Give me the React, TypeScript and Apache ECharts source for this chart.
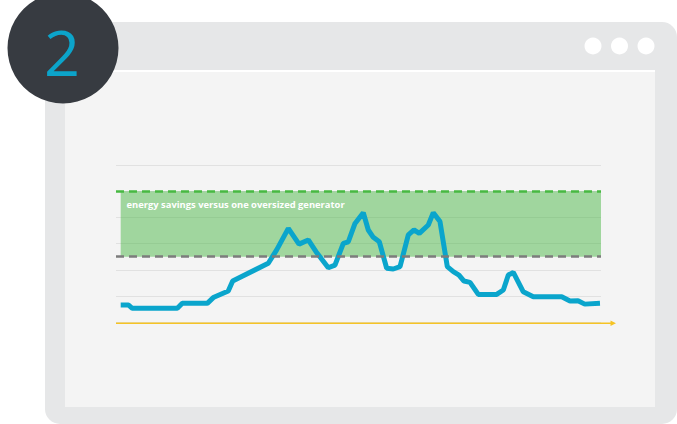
import React, { useEffect, useRef } from "react";
import * as echarts from "echarts";

// Load curve: x position (share of the period, 0-100) and load level
const loadX = [0.97, 2.54, 3.36, 12.64, 13.67, 18.82, 20.06, 23.15, 24.06, 31.4, 33.13, 35.53, 37.73, 39.65, 41.24, 43.77, 45.15, 46.87, 47.9, 49.28, 50.99, 52.02, 53.05, 54.29, 55.81, 57.18, 58.56, 60.27, 61.44, 62.54, 64.39, 65.42, 66.8, 68.31, 69.55, 70.72, 71.75, 72.99, 74.7, 78.49, 79.86, 80.89, 81.92, 83.98, 86.04, 91.9, 93.61, 95.26, 96.65, 99.79];
const loadY = [0.66, 0.66, 0.53, 0.53, 0.72, 0.72, 0.94, 1.19, 1.57, 2.25, 2.76, 3.58, 2.98, 3.14, 2.69, 2.08, 2.18, 3.01, 3.07, 3.77, 4.18, 3.52, 3.24, 3.07, 2.06, 2.03, 2.12, 3.33, 3.52, 3.39, 3.71, 4.18, 3.84, 2.12, 1.93, 1.8, 1.57, 1.52, 1.06, 1.06, 1.23, 1.8, 1.9, 1.16, 0.97, 0.97, 0.81, 0.82, 0.69, 0.72];

const oversizedLevel = 5;
const rightSizedLevel = 2.5;
const bandStartX = 0.97;
const bandEndX = 100;
const bandLabel = "energy savings versus one oversized generator";
const stepLabel = "2";

export default function App() {
  const ref = useRef<HTMLDivElement>(null);
  useEffect(() => {
    if (!ref.current) return;
    const chart = echarts.init(ref.current, undefined, { renderer: "svg" });
    const data = loadX.map((x, i) => [x, loadY[i]]);
    chart.setOption({
      animation: false,
      backgroundColor: "#ffffff",
      grid: { left: 116, right: 76, top: 165, bottom: 101.8 },
      xAxis: {
        type: "value",
        min: 0,
        max: 100,
        axisLine: { show: false },
        axisTick: { show: false },
        axisLabel: { show: false },
        splitLine: { show: false },
      },
      yAxis: {
        type: "value",
        min: 0,
        max: 6,
        interval: 1,
        axisLine: { show: false },
        axisTick: { show: false },
        axisLabel: { show: false },
        splitLine: { show: true, lineStyle: { color: "#e1e1e1", width: 1 } },
      },
      graphic: [
        {
          type: "rect",
          z: -10,
          shape: { x: 45, y: 22, width: 632, height: 402, r: 15 },
          style: { fill: "#e6e7e8" },
        },
        {
          type: "rect",
          z: -9,
          shape: { x: 65, y: 70, width: 590, height: 337 },
          style: { fill: "#f4f4f4" },
        },
        {
          type: "rect",
          z: -9,
          shape: { x: 65, y: 70, width: 590, height: 2 },
          style: { fill: "#ffffff" },
        },
        { type: "circle", z: -8, shape: { cx: 593, cy: 46, r: 8.5 }, style: { fill: "#ffffff" } },
        { type: "circle", z: -8, shape: { cx: 619.5, cy: 46, r: 8.5 }, style: { fill: "#ffffff" } },
        { type: "circle", z: -8, shape: { cx: 646, cy: 46, r: 8.5 }, style: { fill: "#ffffff" } },
        {
          type: "circle",
          z: 5,
          shape: { cx: 63, cy: 48, r: 55.5 },
          style: { fill: "#373b41" },
        },
        {
          type: "text",
          z: 6,
          x: 62,
          y: 51,
          style: {
            text: stepLabel,
            fill: "#0ca4ca",
            font: "normal 400 63px 'Open Sans', sans-serif",
            align: "center",
            verticalAlign: "middle",
          },
        },
        {
          type: "text",
          z: 6,
          x: 126.5,
          y: 204,
          style: {
            text: bandLabel,
            fill: "#ffffff",
            font: "normal 700 9.4px 'Open Sans', sans-serif",
            align: "left",
            verticalAlign: "middle",
          },
        },
        {
          type: "line",
          z: 4,
          shape: { x1: 116, y1: 323.3, x2: 612, y2: 323.3 },
          style: { stroke: "#f5c324", lineWidth: 1.5 },
        },
        {
          type: "polygon",
          z: 4,
          shape: { points: [[610.5, 320.5], [616, 323.3], [610.5, 326.1]] },
          style: { fill: "#f5c324" },
        },
      ],
      series: [
        {
          type: "line",
          z: 1,
          data,
          showSymbol: false,
          silent: true,
          lineStyle: { opacity: 0 },
          markArea: {
            silent: true,
            itemStyle: { color: "rgba(76,183,72,0.5)" },
            data: [[{ xAxis: bandStartX, yAxis: rightSizedLevel }, { xAxis: bandEndX, yAxis: oversizedLevel }]],
          },
          markLine: {
            silent: true,
            symbol: ["none", "none"],
            label: { show: false },
            data: [
              { yAxis: oversizedLevel, lineStyle: { color: "#47b942", type: [8, 5], width: 2.5 } },
              { yAxis: rightSizedLevel, lineStyle: { color: "#7c7c7c", type: [8, 5], width: 2.5 } },
            ],
          },
        },
        {
          type: "line",
          z: 3,
          data,
          showSymbol: false,
          symbol: "none",
          lineStyle: { color: "#0aa5cc", width: 5 },
        },
      ],
    });
    return () => chart.dispose();
  }, []);
  return (
    <div
      ref={ref}
      style={{ position: "fixed", left: 0, top: 0, width: 677, height: 424 }}
    />
  );
}
